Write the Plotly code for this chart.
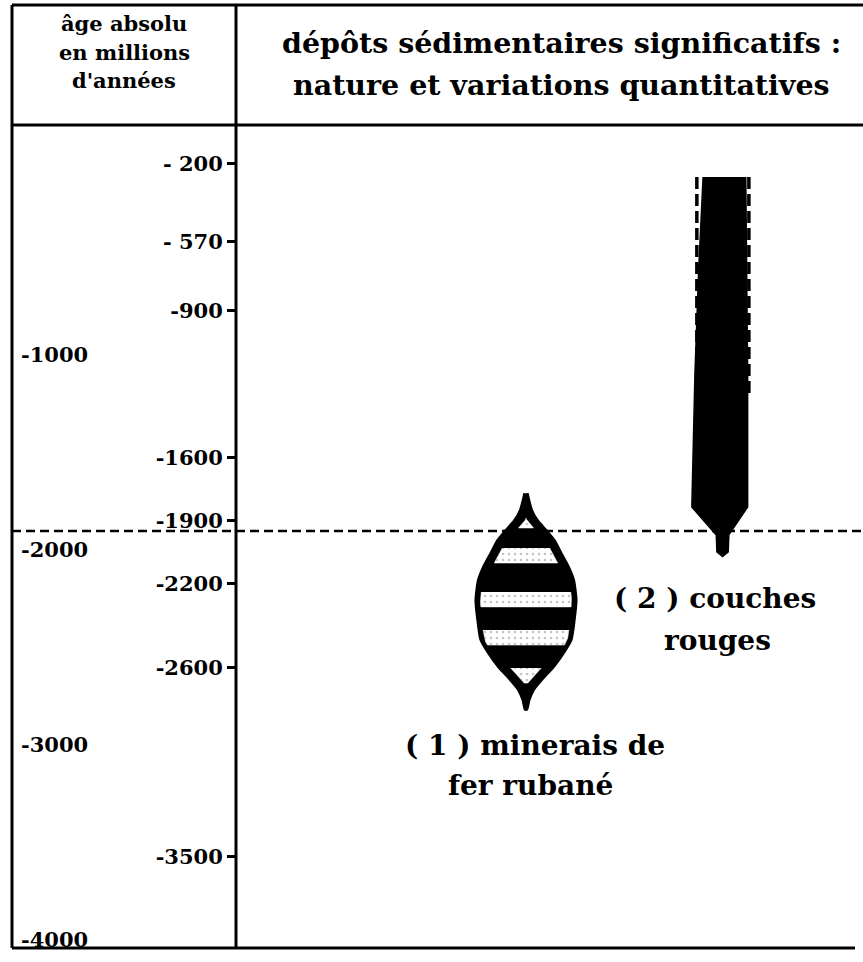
import numpy as np
import plotly.graph_objects as go

# ---------------- data ----------------
# age scale drawn on the column divider (millions of years)
axis_tick_ages = [-200, -570, -900, -1600, -1900, -2200, -2600, -3500]
axis_tick_text = ["- 200", "- 570", "-900", "-1600", "-1900", "-2200", "-2600", "-3500"]

# round ages written in the left column
column_ages = [-1000, -2000, -3000, -4000]
column_text = ["-1000", "-2000", "-3000", "-4000"]

# dashed limit across the table
boundary_age = -1950

# (1) banded iron formations : age vs half-width (relative abundance)
bif_age = [-1770, -1850, -1898, -1946, -1993, -2055, -2122, -2184, -2280,
           -2375, -2470, -2532, -2598, -2660, -2708, -2756, -2803]
bif_halfwidth = [0.3, 1.0, 1.9, 3.3, 4.6, 5.7, 6.9, 7.7, 8.1,
                 7.8, 7.3, 6.1, 4.5, 2.6, 1.3, 0.6, 0.2]
bif_center = 46.25
# light bands inside the lens (age top, age bottom)
bif_band_top = [-1888, -2031, -2241, -2422, -2603]
bif_band_bottom = [-1936, -2103, -2312, -2494, -2675]

# (2) red beds : age vs left / right edge (relative abundance)
red_age = [-264, -700, -1200, -1836, -1969, -2050, -2072]
red_left = [74.5, 73.8, 73.2, 72.7, 76.6, 76.7, 77.6]
red_right = [81.3, 81.5, 81.6, 81.6, 78.6, 78.5, 77.6]
red_dashed_age = [-264, -1293]
red_dashed_x = [73.5, 81.8]

# ---------------- layout helpers ----------------
FONT = "DejaVu Serif"
W, H = 863, 962
ML, MR, MT, MB = 12, 0, 125, 14
PW, PH = W - ML - MR, H - MT - MB


def px_x(p):
    return (p - ML) / PW


def px_y(p):
    return (H - MB - p) / PH


X0 = px_x(236)
band_inset = [1.8, 1.5, 0.8, 0.7, 1.9]

fig = go.Figure()

# lens (1)
xs = [bif_center - w for w in bif_halfwidth] + [bif_center + w for w in bif_halfwidth[::-1]]
ys = bif_age + bif_age[::-1]
fig.add_trace(go.Scatter(x=xs, y=ys, mode="lines", fill="toself", fillcolor="black",
                         line=dict(color="black", width=1.5, shape="spline", smoothing=0.6),
                         hoverinfo="skip"))

age_inc = bif_age[::-1]
hw_inc = bif_halfwidth[::-1]
for top, bot, ins in zip(bif_band_top, bif_band_bottom, band_inset):
    a = np.linspace(top, bot, 14)
    hw = np.clip(np.interp(a, age_inc, hw_inc) - ins, 0, None)
    bx = list(bif_center - hw) + list((bif_center + hw)[::-1])
    by = list(a) + list(a[::-1])
    fig.add_trace(go.Scatter(x=bx, y=by, mode="lines", fill="toself", fillcolor="white",
                             fillpattern=dict(shape=".", fgcolor="#888888", bgcolor="white",
                                              size=6, solidity=0.15),
                             line=dict(color="white", width=0.5), hoverinfo="skip"))

# red beds column (2)
rx = red_left + red_right[::-1]
ry = red_age + red_age[::-1]
fig.add_trace(go.Scatter(x=rx, y=ry, mode="lines", fill="toself", fillcolor="black",
                         line=dict(color="black", width=1.5), hoverinfo="skip"))
for xv in red_dashed_x:
    fig.add_trace(go.Scatter(x=[xv, xv], y=red_dashed_age, mode="lines",
                             line=dict(color="black", width=3.5, dash="12px,5px"),
                             hoverinfo="skip"))

# dummy trace for the left-column age axis
fig.add_trace(go.Scatter(x=[None], y=[None], yaxis="y2", hoverinfo="skip"))

tick_font = dict(family=FONT, size=21, color="black", weight="bold")

fig.update_layout(
    width=W, height=H,
    margin=dict(l=ML, r=MR, t=MT, b=MB, pad=0),
    paper_bgcolor="white", plot_bgcolor="white",
    showlegend=False,
    xaxis=dict(domain=[X0, 1], range=[0, 100], visible=False, fixedrange=True),
    yaxis=dict(range=[-3937, -16], tickvals=axis_tick_ages, ticktext=axis_tick_text,
               ticks="outside", ticklen=8, tickwidth=2.5, tickcolor="black",
               showline=False, showgrid=False, zeroline=False, tickfont=tick_font),
    yaxis2=dict(overlaying="y", anchor="free", position=0, side="left",
                range=[-4041, 179.5], tickvals=column_ages, ticktext=column_text,
                ticks="", ticklabelposition="inside", ticklabeloverflow="allow",
                ticklabelstandoff=5,
                showline=False, showgrid=False, zeroline=False, tickfont=tick_font),
)

# table borders
line = dict(color="black", width=3)
ytop = px_y(5)
fig.add_shape(type="line", xref="paper", yref="paper", x0=0, x1=1, y0=ytop, y1=ytop, line=line)
fig.add_shape(type="line", xref="paper", yref="paper", x0=0, x1=1, y0=1, y1=1, line=line)
fig.add_shape(type="line", xref="paper", yref="paper", x0=0, x1=px_x(855), y0=0, y1=0, line=line)
fig.add_shape(type="line", xref="paper", yref="paper", x0=0, x1=0, y0=0, y1=ytop, line=line)
fig.add_shape(type="line", xref="paper", yref="paper", x0=X0, x1=X0, y0=0, y1=ytop, line=line)
fig.add_shape(type="line", xref="paper", yref="y", x0=0, x1=1, y0=boundary_age, y1=boundary_age,
              line=dict(color="black", width=2.5, dash="9px,5px"))


def label(text, x, y, size):
    fig.add_annotation(text=text, xref="paper", yref="paper", x=px_x(x), y=px_y(y),
                       xanchor="center", yanchor="middle", showarrow=False,
                       font=dict(family=FONT, size=size, color="black", weight="bold"))


label("âge absolu", 124, 23, 21)
label("en millions", 124, 52, 21)
label("d'années", 124, 81, 21)
label("dépôts sédimentaires significatifs :", 561, 43, 28.5)
label("nature et variations quantitatives", 561, 85, 28.5)
label("( 2 ) couches", 715, 598, 28)
label("rouges", 717, 640, 28)
label("( 1 ) minerais de", 535, 745, 28)
label("fer rubané", 530, 785, 28)

fig.write_html("out.html", config={"displayModeBar": False},
               post_script="document.body.style.margin='0px';")
